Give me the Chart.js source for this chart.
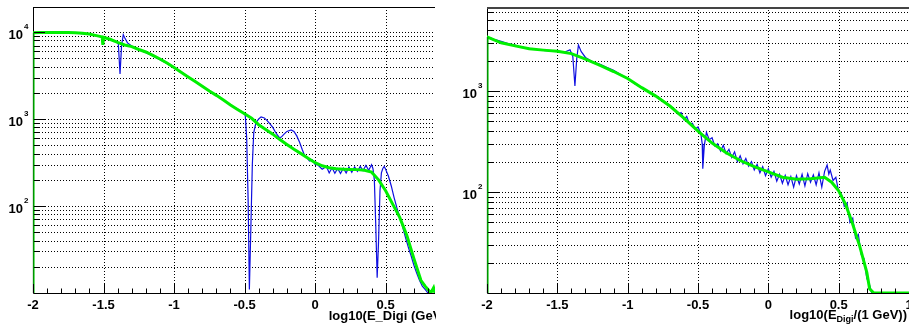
<!DOCTYPE html>
<html>
<head>
<meta charset="utf-8">
<script src="https://cdn.jsdelivr.net/npm/chart.js@4"></script>
<style>
  html, body { margin: 0; padding: 0; background: #fff; }
  body { width: 909px; height: 325px; position: relative; overflow: hidden; }
  canvas { position: absolute; top: 0; }
  #leftChart { left: 0; }
  #rightChart { left: 454px; }
</style>
</head>
<body>
<canvas id="leftChart" width="436" height="325"></canvas>
<canvas id="rightChart" width="455" height="325"></canvas>
<script>
// ---- left pad: log10(E_Digi (GeV)) ----
const leftFitX = [-2, -2, -1.95, -1.9, -1.85, -1.8, -1.75, -1.7, -1.65, -1.6, -1.55, -1.51, -1.505, -1.5,
  -1.45, -1.4, -1.35, -1.3, -1.25, -1.2, -1.15, -1.1, -1.05, -1.0, -0.95, -0.9, -0.85, -0.8, -0.75,
  -0.7, -0.65, -0.6, -0.55, -0.5, -0.45, -0.4, -0.35, -0.3, -0.25, -0.2, -0.15, -0.1, -0.05, 0,
  0.05, 0.1, 0.15, 0.2, 0.25, 0.3, 0.35, 0.4, 0.45, 0.5, 0.55, 0.6, 0.65, 0.7, 0.75, 0.78, 0.8,
  0.82, 0.84, 0.85];
const leftFitY = [10, 9800, 9850, 9900, 9850, 9900, 9850, 9800, 9700, 9500, 9100, 8800, 7100, 8700,
  8200, 7600, 7100, 6800, 6300, 5900, 5400, 4900, 4400, 3900, 3450, 3050, 2700, 2380, 2100,
  1870, 1650, 1450, 1290, 1150, 1020, 860, 760, 670, 580, 510, 450, 400, 355, 315,
  290, 275, 268, 265, 263, 262, 258, 245, 200, 150, 105, 74, 46, 25, 14, 12, 11,
  10, 11.5, 10];

const leftDataX = [-2, -2, -1.9, -1.8, -1.7, -1.6, -1.5, -1.45, -1.41, -1.395, -1.383, -1.372, -1.36,
  -1.35, -1.33, -1.3, -1.25, -1.2, -1.15, -1.1, -1.05, -1.0, -0.95, -0.9, -0.85, -0.8, -0.75, -0.7,
  -0.65, -0.6, -0.55, -0.51, -0.495, -0.485, -0.475, -0.466, -0.455, -0.445, -0.435, -0.42, -0.4,
  -0.383, -0.36, -0.34, -0.32, -0.3, -0.28, -0.253, -0.24, -0.22, -0.2, -0.17, -0.15, -0.13, -0.11,
  -0.09, -0.076, -0.06, -0.04, -0.02, 0, 0.02, 0.05, 0.08, 0.1, 0.12, 0.14, 0.16, 0.18, 0.2, 0.22,
  0.24, 0.26, 0.28, 0.3, 0.32, 0.34, 0.36, 0.38, 0.4, 0.41, 0.42, 0.43, 0.44, 0.45, 0.46, 0.47,
  0.48, 0.49, 0.5, 0.52, 0.54, 0.56, 0.58, 0.6, 0.62, 0.64, 0.66, 0.68, 0.7, 0.72, 0.74, 0.76,
  0.78, 0.8];
const leftDataY = [10, 9700, 9800, 9900, 9750, 9400, 8700, 8100, 7700, 7300, 3300, 7000, 9300,
  8600, 7500, 6900, 6300, 5800, 5300, 4800, 4350, 3880, 3420, 3080, 2700, 2400, 2120, 1880,
  1660, 1440, 1300, 1180, 1100, 600, 120, 11, 60, 300, 700, 900, 1000,
  1060, 1030, 960, 880, 800, 700, 610, 620, 670, 720, 750, 720, 640, 540,
  440, 385, 365, 330, 340, 300, 296, 265, 285, 240, 275, 238, 270, 236, 272, 240,
  280, 245, 282, 250, 285, 255, 292, 258, 298, 270, 200, 60, 15, 40, 150, 240,
  270, 285, 265, 220, 170, 125, 95, 74, 58, 44, 34, 27, 21, 17, 14, 12,
  11, 10];

// ---- right pad: log10(E_Digi/(1 GeV)) ----
const rightFitX = [-2, -2, -1.9, -1.8, -1.7, -1.6, -1.5, -1.4, -1.3, -1.2, -1.1, -1.0, -0.9, -0.8,
  -0.7, -0.6, -0.5, -0.4, -0.3, -0.2, -0.1, 0, 0.1, 0.2, 0.3, 0.4, 0.45, 0.5, 0.55, 0.6, 0.65,
  0.7, 0.72, 0.75, 0.8, 0.9, 1.0];
const rightFitY = [10, 3430, 3000, 2800, 2620, 2540, 2480, 2345, 2070, 1800, 1560, 1330, 1080, 890,
  710, 540, 400, 305, 245, 205, 178, 158, 140, 134, 135, 140, 125, 103, 75, 48, 29,
  16, 11, 10, 10, 10, 10];

const rightDataX = [-2, -2, -1.95, -1.9, -1.85, -1.8, -1.75, -1.7, -1.65, -1.6, -1.55, -1.5, -1.45,
  -1.41, -1.39, -1.375, -1.362, -1.35, -1.33, -1.3, -1.25, -1.2, -1.15, -1.1, -1.05, -1.0, -0.95,
  -0.9, -0.85, -0.8, -0.75, -0.7, -0.66, -0.64, -0.62, -0.6, -0.58, -0.56, -0.54, -0.52, -0.5,
  -0.48, -0.47, -0.466, -0.455, -0.44, -0.42, -0.4, -0.38, -0.36, -0.34, -0.32, -0.3, -0.28,
  -0.26, -0.24, -0.22, -0.2, -0.18, -0.16, -0.14, -0.12, -0.1, -0.08, -0.06, -0.04, -0.02, 0,
  0.02, 0.04, 0.06, 0.08, 0.1, 0.12, 0.14, 0.16, 0.18, 0.2, 0.22, 0.24, 0.26, 0.28, 0.3, 0.32,
  0.34, 0.36, 0.38, 0.4, 0.418, 0.43, 0.44, 0.46, 0.48, 0.5, 0.52, 0.54, 0.56, 0.58, 0.6, 0.62,
  0.64, 0.66, 0.68, 0.7, 0.72, 0.735];
const rightDataY = [10, 3450, 3250, 3100, 2950, 2850, 2700, 2650, 2580, 2530, 2500, 2480, 2420,
  2560, 2200, 1120, 2100, 2850, 2450, 2150, 1950, 1850, 1720, 1600, 1460, 1330, 1180,
  1080, 980, 900, 800, 720, 640, 590, 610, 520, 560, 470, 480, 420, 440,
  380, 300, 170, 290, 390, 330, 345, 285, 300, 255, 290, 240, 265,
  220, 250, 200, 228, 190, 215, 180, 200, 165, 188, 155, 178, 145, 170,
  140, 160, 128, 150, 122, 146, 118, 142, 112, 145, 120, 150, 115, 152, 125, 148,
  118, 155, 112, 160, 185, 150, 165, 130, 140, 100, 95, 72, 78, 50, 55, 35,
  38, 24, 22, 14, 12, 10];

const leftTickValues = [-2, -1.5, -1, -0.5, 0, 0.5];
const leftTickLabels = ["-2", "-1.5", "-1", "-0.5", "0", "0.5"];
const rightTickValues = [-2, -1.5, -1, -0.5, 0, 0.5, 1];
const rightTickLabels = ["-2", "-1.5", "-1", "-0.5", "0", "0.5", "1"];

const FONT = "'Liberation Sans', Arial, sans-serif";

function pts(xs, ys) {
  return xs.map((x, i) => ({ x: x, y: ys[i] }));
}

function logTicks(min, max) {
  const out = [];
  for (let k = Math.floor(Math.log10(min)); k <= Math.ceil(Math.log10(max)); k++) {
    for (let m = 1; m <= 9; m++) {
      const v = m * Math.pow(10, k);
      if (v > min * 1.0001 && v < max) out.push({ v: v, major: m === 1, k: k });
    }
  }
  return out;
}

// ROOT-like frame: dotted grid, inward ticks, 10^n labels, axis title
const rootFrame = {
  id: "rootFrame",
  beforeDatasetsDraw(chart, args, opts) {
    const { ctx, chartArea: a } = chart;
    const x = chart.scales.x, y = chart.scales.y;
    ctx.save();
    ctx.strokeStyle = "#000";
    ctx.lineWidth = 1;
    ctx.setLineDash([1, 2]);
    ctx.beginPath();
    logTicks(y.min, y.max).forEach(t => {
      const py = Math.round(y.getPixelForValue(t.v)) + 0.5;
      ctx.moveTo(a.left, py);
      ctx.lineTo(a.right, py);
    });
    opts.tickValues.forEach(v => {
      if (v <= x.min || v >= x.max) return;
      const px = Math.round(x.getPixelForValue(v)) + 0.5;
      ctx.moveTo(px, a.top);
      ctx.lineTo(px, a.bottom);
    });
    ctx.stroke();
    ctx.setLineDash([]);
    // axes
    ctx.beginPath();
    ctx.moveTo(a.left + 0.5, a.top);
    ctx.lineTo(a.left + 0.5, a.bottom + 0.5);
    ctx.lineTo(a.right, a.bottom + 0.5);
    ctx.stroke();
    ctx.strokeStyle = opts.topColor;
    ctx.lineWidth = opts.topWidth;
    ctx.beginPath();
    ctx.moveTo(a.left, a.top + opts.topWidth / 2);
    ctx.lineTo(a.right, a.top + opts.topWidth / 2);
    ctx.stroke();
    ctx.restore();
  },
  afterDatasetsDraw(chart, args, opts) {
    const { ctx, chartArea: a } = chart;
    const x = chart.scales.x, y = chart.scales.y;
    ctx.save();

    // axis line showing darker through the fit's first vertical edge
    const first = chart.getDatasetMeta(0).data[1];
    ctx.strokeStyle = "rgba(0,70,0,0.55)";
    ctx.lineWidth = 1.5;
    ctx.beginPath();
    ctx.moveTo(a.left + 0.5, first.y);
    ctx.lineTo(a.left + 0.5, a.bottom);
    ctx.stroke();

    ctx.strokeStyle = "#000";
    ctx.fillStyle = "#000";
    ctx.lineWidth = 1;
    ctx.beginPath();
    // y ticks
    logTicks(y.min, y.max).forEach(t => {
      const py = Math.round(y.getPixelForValue(t.v)) + 0.5;
      ctx.moveTo(a.left + 1, py);
      ctx.lineTo(a.left + (t.major ? 12 : 6), py);
    });
    // x ticks every 0.1
    for (let i = Math.ceil(x.min * 10 - 1e-6); i <= Math.floor(x.max * 10 + 1e-6); i++) {
      const px = Math.round(x.getPixelForValue(i / 10)) + 0.5;
      const len = (i % 5 === 0) ? 9 : 4.5;
      ctx.moveTo(px, a.bottom);
      ctx.lineTo(px, a.bottom - len);
    }
    ctx.stroke();

    // y labels 10^k
    logTicks(y.min, y.max).filter(t => t.major).forEach(t => {
      const py = y.getPixelForValue(t.v);
      ctx.font = "bold 13px " + FONT;
      ctx.textAlign = "right";
      ctx.textBaseline = "alphabetic";
      ctx.fillText("10", a.left - 10, py + 6.5);
      ctx.font = "bold 8px " + FONT;
      ctx.textAlign = "left";
      ctx.fillText(String(t.k), a.left - 9, py - 3.5);
    });

    // x labels
    ctx.font = "bold 13px " + FONT;
    ctx.textAlign = "center";
    opts.tickValues.forEach((v, i) => {
      ctx.fillText(opts.tickLabels[i], x.getPixelForValue(v), 309);
    });

    // axis title, right aligned, may run past the pad edge
    const parts = opts.title;
    let total = 0;
    parts.forEach(p => {
      ctx.font = (p.sub ? "bold 9px " : "bold 13px ") + FONT;
      total += ctx.measureText(p.t).width;
    });
    let cx = opts.titleRight - total;
    ctx.textAlign = "left";
    parts.forEach(p => {
      ctx.font = (p.sub ? "bold 9px " : "bold 13px ") + FONT;
      ctx.fillText(p.t, cx, opts.titleBase + (p.sub ? 3 : 0));
      cx += ctx.measureText(p.t).width;
    });
    ctx.restore();
  }
};

function makeChart(id, fit, data, xMax, yMax, pad, frame) {
  return new Chart(document.getElementById(id), {
    type: "line",
    data: {
      datasets: [
        { label: "fit", data: fit, borderColor: "rgb(0,240,0)", borderWidth: 3,
          pointRadius: 0, tension: 0, order: 0 },
        { label: "data", data: data, borderColor: "rgb(15,15,225)", borderWidth: 1.2,
          pointRadius: 0, tension: 0, order: 1 }
      ]
    },
    options: {
      responsive: false,
      animation: false,
      events: [],
      layout: { padding: pad },
      plugins: {
        legend: { display: false },
        tooltip: { enabled: false },
        rootFrame: frame
      },
      scales: {
        x: { type: "linear", min: -2, max: xMax, display: false },
        y: { type: "logarithmic", min: 10, max: yMax, display: false }
      }
    },
    plugins: [rootFrame]
  });
}

makeChart("leftChart", pts(leftFitX, leftFitY), pts(leftDataX, leftDataY), 0.85, 19400,
  { left: 33, right: 1, top: 7, bottom: 32 },
  { tickValues: leftTickValues, tickLabels: leftTickLabels, topColor: "#000", topWidth: 1,
    title: [{ t: "log10(E_Digi (GeV))" }], titleRight: 450, titleBase: 320 });

makeChart("rightChart", pts(rightFitX, rightFitY), pts(rightDataX, rightDataY), 1, 6790,
  { left: 33, right: 0, top: 7, bottom: 32 },
  { tickValues: rightTickValues, tickLabels: rightTickLabels, topColor: "#444", topWidth: 2,
    title: [{ t: "log10(E" }, { t: "Digi", sub: true }, { t: "/(1 GeV))" }],
    titleRight: 453, titleBase: 319 });
</script>
</body>
</html>
